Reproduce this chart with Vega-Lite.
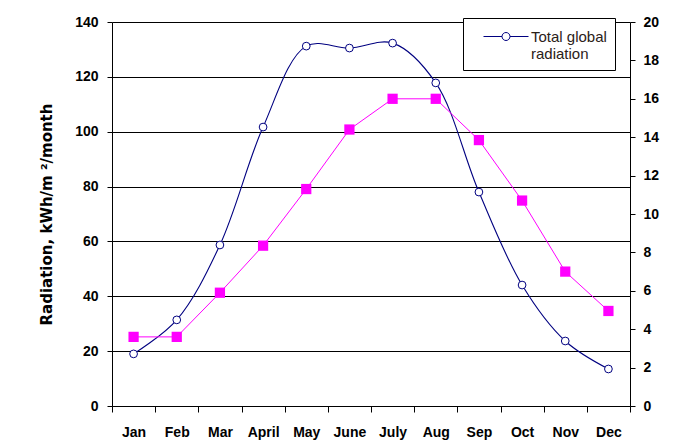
{
  "$schema": "https://vega.github.io/schema/vega-lite/v6.json",
  "width": 518,
  "height": 384,
  "autosize": {"type": "none"},
  "padding": {"left": 112, "top": 22, "right": 54, "bottom": 36},
  "background": "white",
  "config": {
    "view": {"stroke": null},
    "font": "Liberation Sans",
    "axis": {
      "domainColor": "black",
      "tickColor": "black",
      "labelColor": "black",
      "titleColor": "black",
      "labelFont": "Liberation Sans",
      "titleFont": "DejaVu Sans",
      "labelFontWeight": "bold",
      "labelFontSize": 14,
      "titleFontSize": 15,
      "titleFontWeight": "bold"
    }
  },
  "data": {
    "values": [
      {"month": "Jan", "total": 19, "temp": 3.6},
      {"month": "Feb", "total": 31.4, "temp": 3.6},
      {"month": "Mar", "total": 58.7, "temp": 5.9},
      {"month": "April", "total": 101.7, "temp": 8.35},
      {"month": "May", "total": 131.2, "temp": 11.3},
      {"month": "June", "total": 130.5, "temp": 14.4},
      {"month": "July", "total": 132.3, "temp": 16.0},
      {"month": "Aug", "total": 117.8, "temp": 16.0},
      {"month": "Sep", "total": 78, "temp": 13.85},
      {"month": "Oct", "total": 44.1, "temp": 10.7},
      {"month": "Nov", "total": 23.7, "temp": 7.0},
      {"month": "Dec", "total": 13.5, "temp": 4.95}
    ]
  },
  "encoding": {
    "x": {
      "field": "month",
      "type": "ordinal",
      "sort": null,
      "bandPosition": 0.5,
      "scale": {"type": "band", "paddingInner": 0, "paddingOuter": 0},
      "axis": {
        "title": null,
        "labelAngle": 0,
        "tickBand": "extent",
        "tickSize": 6,
        "labelPadding": 13,
        "grid": false
      }
    }
  },
  "layer": [
    {
      "mark": {
        "type": "line",
        "interpolate": "catmull-rom",
        "strokeWidth": 1.1,
        "point": {"filled": false, "fill": "white", "size": 60, "strokeWidth": 1}
      },
      "encoding": {
        "y": {
          "field": "total",
          "type": "quantitative",
          "scale": {"domain": [0, 140], "nice": false},
          "axis": {
            "title": "Radiation, kWh/m ²/month",
            "values": [0, 20, 40, 60, 80, 100, 120, 140],
            "grid": true,
            "gridColor": "black",
            "gridOpacity": 1,
            "gridWidth": 1,
            "tickSize": 5,
            "labelPadding": 9,
            "titlePadding": 20
          }
        },
        "color": {
          "datum": "Total global radiation",
          "scale": {"range": ["#000080"]},
          "legend": {
            "title": null,
            "orient": "none",
            "legendX": 351,
            "legendY": -4,
            "strokeColor": "black",
            "fillColor": "white",
            "padding": 8,
            "cornerRadius": 0,
            "labelFont": "Liberation Sans",
            "labelFontSize": 15,
            "labelColor": "#2b2118",
            "labelOffset": 39,
            "labelExpr": "['Total global   ', 'radiation']",
            "symbolType": "M0.2,0L2.05,0M2.85,0L4.7,0M2.85,0A0.4,0.4 0 1 1 2.05,0A0.4,0.4 0 1 1 2.85,0",
            "symbolSize": 400,
            "symbolStrokeWidth": 1,
            "symbolStrokeColor": "#000080",
            "symbolFillColor": "white"
          }
        }
      }
    },
    {
      "mark": {
        "type": "line",
        "color": "#FF00FF",
        "strokeWidth": 1,
        "point": {"shape": "square", "filled": true, "size": 105, "color": "#FF00FF"}
      },
      "encoding": {
        "y": {
          "field": "temp",
          "type": "quantitative",
          "scale": {"domain": [0, 20], "nice": false},
          "axis": {
            "orient": "right",
            "title": null,
            "values": [0, 2, 4, 6, 8, 10, 12, 14, 16, 18, 20],
            "grid": false,
            "tickSize": 5,
            "labelPadding": 8
          }
        }
      }
    }
  ],
  "resolve": {"scale": {"y": "independent", "color": "independent"}}
}
